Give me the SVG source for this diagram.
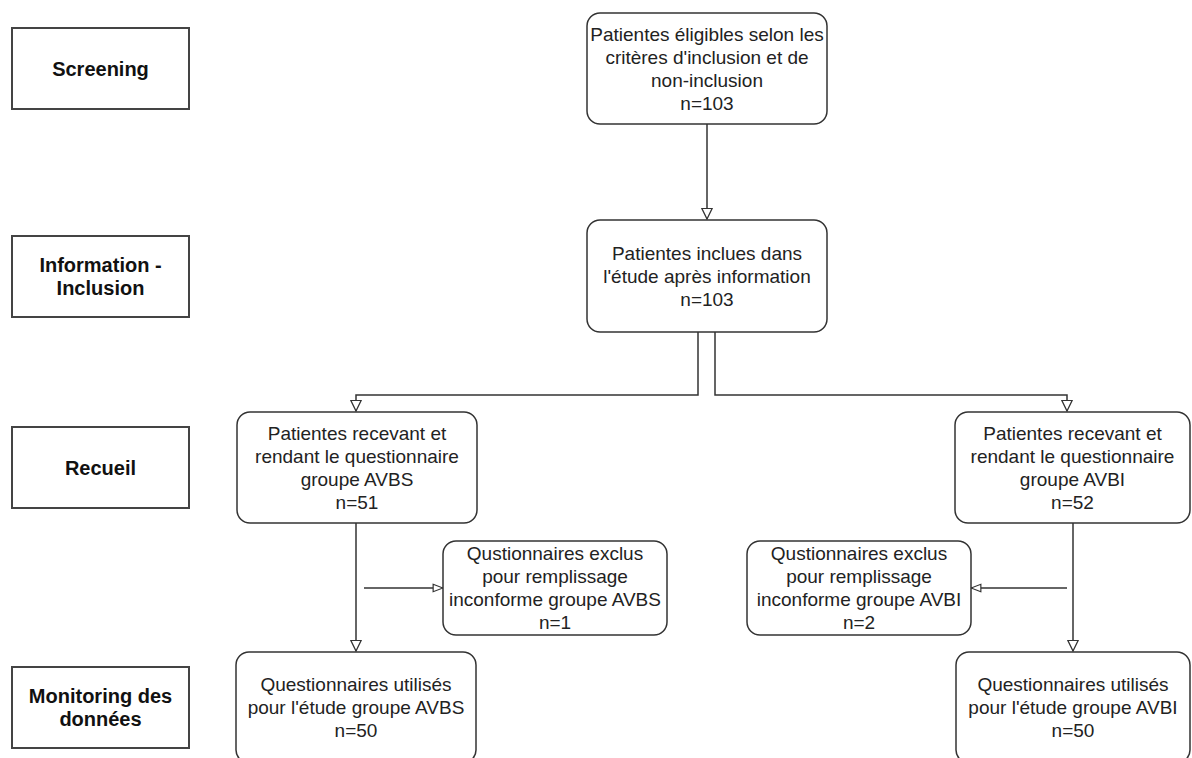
<svg xmlns="http://www.w3.org/2000/svg" width="1192" height="758" viewBox="0 0 1192 758">
<defs>
<style>
.stage{fill:#fff;stroke:#444;stroke-width:2}
.node{fill:#fff;stroke:#333;stroke-width:1.5}
.t{font-family:"Liberation Sans",Arial,sans-serif;font-size:19px;fill:#222;text-anchor:middle}
.b{font-family:"Liberation Sans",Arial,sans-serif;font-size:20px;font-weight:bold;fill:#111;text-anchor:middle}
.c{fill:none;stroke:#333;stroke-width:1.5}
</style>
<marker id="arr" viewBox="0 0 12 12" refX="11.5" refY="6" markerWidth="12" markerHeight="12" markerUnits="userSpaceOnUse" orient="auto">
<path d="M0.75,0.75 L11.5,6 L0.75,11.25 Z" fill="#fff" stroke="#333" stroke-width="1.3"/>
</marker>
<marker id="arrs" viewBox="0 0 12 12" refX="11.5" refY="6" markerWidth="11" markerHeight="10" markerUnits="userSpaceOnUse" orient="auto" preserveAspectRatio="none">
<path d="M0.75,1.5 L11.5,6 L0.75,10.5 Z" fill="#fff" stroke="#333" stroke-width="1.3"/>
</marker>
</defs>
<rect width="1192" height="758" fill="#fff"/>

<g id="connectors">
<path class="c" d="M707,124 V219" marker-end="url(#arr)"/>
<path class="c" d="M698,332 V395 H356 V411" marker-end="url(#arr)"/>
<path class="c" d="M715,332 V395 H1067 V411" marker-end="url(#arr)"/>
<path class="c" d="M356,523 V651" marker-end="url(#arr)"/>
<path class="c" d="M364,588 H443" marker-end="url(#arrs)"/>
<path class="c" d="M1073,523 V651" marker-end="url(#arr)"/>
<path class="c" d="M1067,588 H971" marker-end="url(#arrs)"/>
</g>

<g id="stage-screening">
<rect class="stage" x="12" y="28" width="177" height="81"/>
<text class="b" x="100.5" y="75.5">Screening</text>
</g>
<g id="stage-information">
<rect class="stage" x="12" y="236" width="177" height="81"/>
<text class="b" x="100.5" y="271.5">Information -</text>
<text class="b" x="100.5" y="294.5">Inclusion</text>
</g>
<g id="stage-recueil">
<rect class="stage" x="12" y="427" width="177" height="81"/>
<text class="b" x="100.5" y="474.5">Recueil</text>
</g>
<g id="stage-monitoring">
<rect class="stage" x="12" y="667" width="177" height="81"/>
<text class="b" x="100.5" y="702.5">Monitoring des</text>
<text class="b" x="100.5" y="725.5">données</text>
</g>

<g id="node-eligibles">
<rect class="node" x="587" y="13" width="240" height="111" rx="13"/>
<text class="t" x="707" y="41">Patientes éligibles selon les</text>
<text class="t" x="707" y="64">critères d'inclusion et de</text>
<text class="t" x="707" y="87">non-inclusion</text>
<text class="t" x="707" y="110">n=103</text>
</g>
<g id="node-inclues">
<rect class="node" x="587" y="220" width="240" height="112" rx="13"/>
<text class="t" x="707" y="260">Patientes inclues dans</text>
<text class="t" x="707" y="283">l'étude après information</text>
<text class="t" x="707" y="306">n=103</text>
</g>
<g id="node-avbs">
<rect class="node" x="237" y="412" width="240" height="111" rx="13"/>
<text class="t" x="357" y="440">Patientes recevant et</text>
<text class="t" x="357" y="463">rendant le questionnaire</text>
<text class="t" x="357" y="486">groupe AVBS</text>
<text class="t" x="357" y="509">n=51</text>
</g>
<g id="node-avbi">
<rect class="node" x="955" y="412" width="235" height="111" rx="13"/>
<text class="t" x="1072.5" y="440">Patientes recevant et</text>
<text class="t" x="1072.5" y="463">rendant le questionnaire</text>
<text class="t" x="1072.5" y="486">groupe AVBI</text>
<text class="t" x="1072.5" y="509">n=52</text>
</g>
<g id="node-exclus-avbs">
<rect class="node" x="443" y="541" width="224" height="94" rx="13"/>
<text class="t" x="555" y="560">Qustionnaires exclus</text>
<text class="t" x="555" y="583">pour remplissage</text>
<text class="t" x="555" y="606">inconforme groupe AVBS</text>
<text class="t" x="555" y="629">n=1</text>
</g>
<g id="node-exclus-avbi">
<rect class="node" x="747" y="541" width="224" height="94" rx="13"/>
<text class="t" x="859" y="560">Qustionnaires exclus</text>
<text class="t" x="859" y="583">pour remplissage</text>
<text class="t" x="859" y="606">inconforme groupe AVBI</text>
<text class="t" x="859" y="629">n=2</text>
</g>
<g id="node-utilises-avbs">
<rect class="node" x="236" y="652" width="240" height="111" rx="13"/>
<text class="t" x="356" y="691">Questionnaires utilisés</text>
<text class="t" x="356" y="714">pour l'étude groupe AVBS</text>
<text class="t" x="356" y="737">n=50</text>
</g>
<g id="node-utilises-avbi">
<rect class="node" x="956" y="652" width="234" height="111" rx="13"/>
<text class="t" x="1073" y="691">Questionnaires utilisés</text>
<text class="t" x="1073" y="714">pour l'étude groupe AVBI</text>
<text class="t" x="1073" y="737">n=50</text>
</g>
</svg>
